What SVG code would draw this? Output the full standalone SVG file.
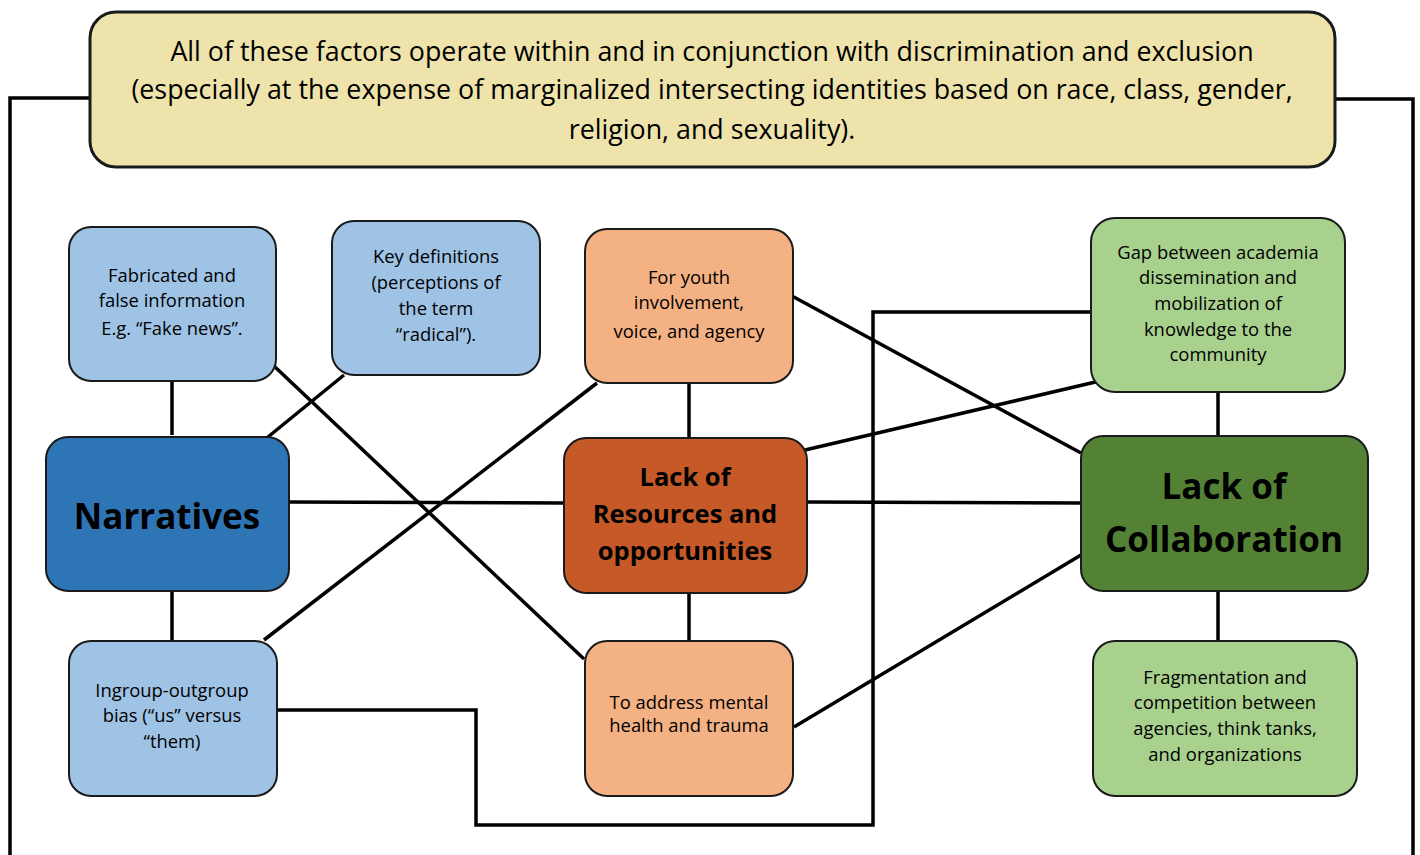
<svg xmlns="http://www.w3.org/2000/svg" width="1420" height="855" viewBox="0 0 1420 855">
  <style>
    .box { stroke: #1a1a1a; stroke-width: 2; }
    .banner { fill: #EEE3AA; stroke: #1a1a1a; stroke-width: 3; }
    .lb { fill: #9FC3E5; }
    .db { fill: #2E75B6; }
    .lo { fill: #F4B183; }
    .do { fill: #C55A28; }
    .lg { fill: #A9D18E; }
    .dg { fill: #548235; }
    text { font-family: "Open Sans", "Liberation Sans", sans-serif; fill: #000; text-anchor: middle; }
    .t-banner { font-size: 26.8px; }
    .t-small { font-size: 18.4px; }
    .t-big { font-size: 35px; font-weight: bold; }
    .t-mid { font-size: 25.5px; font-weight: bold; }
    .wire { fill: none; stroke: #000; stroke-width: 3.5; }
  </style>

  <!-- connectors -->
  <g id="connectors">
    <polyline class="wire" points="90,98 10,98 10,855"/>
    <polyline class="wire" points="1335,99 1413,99 1413,855"/>
    <line class="wire" x1="172" y1="381" x2="172" y2="435"/>
    <line class="wire" x1="344" y1="375" x2="263" y2="441"/>
    <line class="wire" x1="274" y1="366" x2="584" y2="659"/>
    <line class="wire" x1="289" y1="502" x2="564" y2="503"/>
    <line class="wire" x1="172" y1="591" x2="172" y2="641"/>
    <line class="wire" x1="264" y1="640" x2="597" y2="383"/>
    <polyline class="wire" points="277,710 476,710 476,825 873,825 873,312 1091,312"/>
    <line class="wire" x1="792" y1="296" x2="1081" y2="453"/>
    <line class="wire" x1="689" y1="383" x2="689" y2="438"/>
    <line class="wire" x1="805" y1="450" x2="1104" y2="380"/>
    <line class="wire" x1="807" y1="502" x2="1081" y2="503"/>
    <line class="wire" x1="689" y1="593" x2="689" y2="641"/>
    <line class="wire" x1="794" y1="727" x2="1081" y2="555"/>
    <line class="wire" x1="1218" y1="392" x2="1218" y2="436"/>
    <line class="wire" x1="1218" y1="591" x2="1218" y2="641"/>
  </g>

  <!-- context banner -->
  <g id="context">
    <rect class="banner" x="90" y="12" width="1245" height="155" rx="26"/>
    <text class="t-banner" x="712" y="61">All of these factors operate within and in conjunction with discrimination and exclusion</text>
    <text class="t-banner" x="712" y="99">(especially at the expense of marginalized intersecting identities based on race, class, gender,</text>
    <text class="t-banner" x="712" y="139">religion, and sexuality).</text>
  </g>

  <g id="fabricated">
    <rect class="box lb" x="69" y="227" width="207" height="154" rx="22"/>
    <text class="t-small" x="172" y="282">Fabricated and</text>
    <text class="t-small" x="172" y="307">false information</text>
    <text class="t-small" x="172" y="335">E.g. “Fake news”.</text>
  </g>

  <g id="definitions">
    <rect class="box lb" x="332" y="221" width="208" height="154" rx="22"/>
    <text class="t-small" x="436" y="263">Key definitions</text>
    <text class="t-small" x="436" y="289">(perceptions of</text>
    <text class="t-small" x="436" y="315">the term</text>
    <text class="t-small" x="436" y="341">“radical”).</text>
  </g>

  <g id="narratives">
    <rect class="box db" x="46" y="437" width="243" height="154" rx="22"/>
    <text class="t-big" x="167" y="529">Narratives</text>
  </g>

  <g id="ingroup">
    <rect class="box lb" x="69" y="641" width="208" height="155" rx="22"/>
    <text class="t-small" x="172" y="697">Ingroup-outgroup</text>
    <text class="t-small" x="172" y="722">bias (“us” versus</text>
    <text class="t-small" x="172" y="748">“them)</text>
  </g>

  <g id="youth">
    <rect class="box lo" x="585" y="229" width="208" height="154" rx="22"/>
    <text class="t-small" x="689" y="284">For youth</text>
    <text class="t-small" x="689" y="309">involvement,</text>
    <text class="t-small" x="689" y="338">voice, and agency</text>
  </g>

  <g id="resources">
    <rect class="box do" x="564" y="438" width="243" height="155" rx="22"/>
    <text class="t-mid" x="685" y="486">Lack of</text>
    <text class="t-mid" x="685" y="523">Resources and</text>
    <text class="t-mid" x="685" y="560">opportunities</text>
  </g>

  <g id="mental-health">
    <rect class="box lo" x="585" y="641" width="208" height="155" rx="22"/>
    <text class="t-small" x="689" y="709">To address mental</text>
    <text class="t-small" x="689" y="732">health and trauma</text>
  </g>

  <g id="knowledge-gap">
    <rect class="box lg" x="1091" y="218" width="254" height="174" rx="24"/>
    <text class="t-small" x="1218" y="259">Gap between academia</text>
    <text class="t-small" x="1218" y="284">dissemination and</text>
    <text class="t-small" x="1218" y="310">mobilization of</text>
    <text class="t-small" x="1218" y="336">knowledge to the</text>
    <text class="t-small" x="1218" y="361">community</text>
  </g>

  <g id="collaboration">
    <rect class="box dg" x="1081" y="436" width="287" height="155" rx="22"/>
    <text class="t-big" x="1224" y="499">Lack of</text>
    <text class="t-big" x="1224" y="552">Collaboration</text>
  </g>

  <g id="fragmentation">
    <rect class="box lg" x="1093" y="641" width="264" height="155" rx="22"/>
    <text class="t-small" x="1225" y="684">Fragmentation and</text>
    <text class="t-small" x="1225" y="709">competition between</text>
    <text class="t-small" x="1225" y="735">agencies, think tanks,</text>
    <text class="t-small" x="1225" y="761">and organizations</text>
  </g>
</svg>
